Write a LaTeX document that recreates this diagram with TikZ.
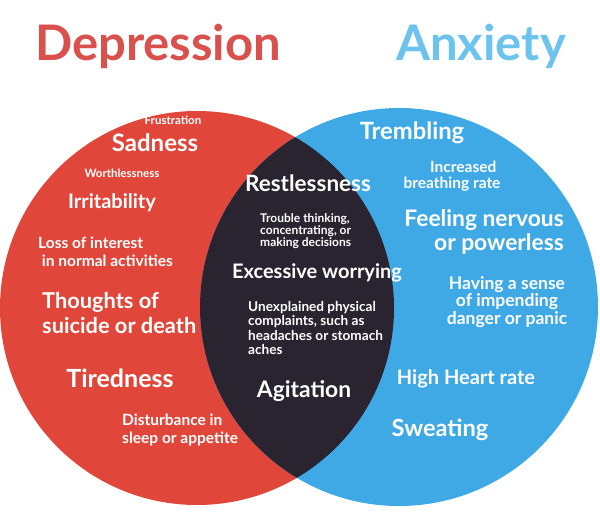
\documentclass[tikz,border=0pt]{standalone}
\usepackage{fontspec}
\setmainfont{Lato}
\definecolor{redc}{HTML}{E0463A}
\definecolor{bluec}{HTML}{3FA9E6}
\definecolor{darkc}{HTML}{2A2430}
\definecolor{titr}{HTML}{D9504C}
\definecolor{titb}{HTML}{6CC4EE}
\tikzset{lab/.style={text=white,font=\bfseries,inner sep=0pt,align=left}}
\newcommand{\fs}[1]{\fontsize{#1}{#1}\selectfont}
\begin{document}
\begin{tikzpicture}[x=1pt,y=-1pt]
\useasboundingbox (0,0) rectangle (600,519);
\fill[white] (0,0) rectangle (600,519);
\fill[redc] (197,308) circle (197);
\fill[bluec] (399,307) circle (199);
\begin{scope}
\clip (197,308) circle (197);
\fill[darkc] (399,307) circle (199);
\end{scope}
\node[font=\bfseries\fs{49},text=titr,inner sep=0pt] (t1) at (158,46) {Depression};
\node[font=\bfseries\fs{49},text=titb,inner sep=0pt] (t2) at (481,46) {Anxiety};
\node[lab,font=\bfseries\fs{11.5}] (a1) at (173,120) {Frustration};
\node[lab,font=\bfseries\fs{24}] (a2) at (155,143) {Sadness};
\node[lab,font=\bfseries\fs{11.5}] (a3) at (122,173) {Worthlessness};
\node[lab,font=\bfseries\fs{20}] (a4) at (112,203) {Irritability};
\node[lab,font=\bfseries\fs{15.5},anchor=west] (a5) at (38,252) {Loss of interest\\[2pt]\ in normal activities};
\node[lab,font=\bfseries\fs{21.8},anchor=west] (a6) at (42,313) {Thoughts of\\[3pt]suicide or death};
\node[lab,font=\bfseries\fs{25}] (a7) at (120,378) {Tiredness};
\node[lab,font=\bfseries\fs{15.5},anchor=west] (a8) at (122,430) {Disturbance in\\[2pt]sleep or appetite};
\node[lab,font=\bfseries\fs{22.5}] (b1) at (308,183) {Restlessness};
\node[lab,font=\bfseries\fs{12},anchor=west] (b2) at (260,231) {Trouble thinking,\\[0pt]concentrating, or\\[0pt]making decisions};
\node[lab,font=\bfseries\fs{20}] (b3) at (317,273) {Excessive worrying};
\node[lab,font=\bfseries\fs{13.6},anchor=west] (b4) at (248,328) {Unexplained physical\\[0.5pt]complaints, such as\\[0.5pt]headaches or stomach\\[0.5pt]aches};
\node[lab,font=\bfseries\fs{22.8}] (b5) at (304,391) {Agitation};
\node[lab,font=\bfseries\fs{23.8}] (c1) at (412,133) {Trembling};
\node[lab,font=\bfseries\fs{15.5},align=center] (c2) at (452,176) {\ \ \ \ \ \ Increased\\[1pt]breathing rate};
\node[lab,font=\bfseries\fs{22.8},align=right,anchor=east] (c3) at (564,232) {Feeling nervous\\[2pt]or powerless};
\node[lab,font=\bfseries\fs{17.5},align=center] (c4) at (507,302) {Having a sense\\[0pt]of impending\\[0pt]danger or panic};
\node[lab,font=\bfseries\fs{20}] (c5) at (466,379) {High Heart rate};
\node[lab,font=\bfseries\fs{23.6}] (c6) at (440,430) {Sweating};
\end{tikzpicture}
\end{document}
